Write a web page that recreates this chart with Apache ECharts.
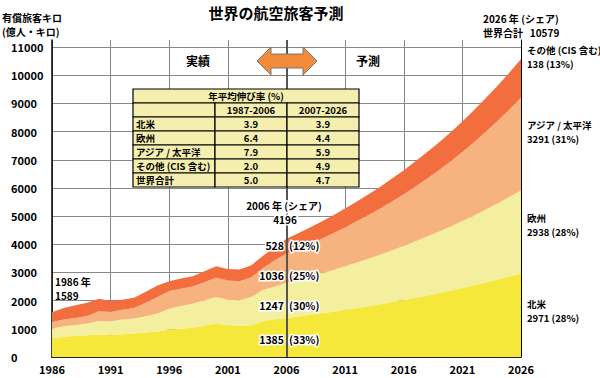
<!DOCTYPE html>
<html><head><meta charset="utf-8">
<script src="https://cdn.jsdelivr.net/npm/echarts@6/dist/echarts.min.js"></script>
<style>html,body{margin:0;padding:0;background:#fff}#c{width:600px;height:378px}</style>
</head><body><div id="c"></div>
<script>
// ---- data ----
const years = [];
for (let y = 1986; y <= 2026; y++) years.push(String(y));
const northAmerica = [658, 717, 752, 776, 799, 800, 811, 835, 870, 905, 976, 999, 1034, 1117, 1187, 1140, 1105, 1130, 1280, 1340, 1385,
  1440, 1495, 1550, 1610, 1675, 1740, 1805, 1875, 1950, 2025, 2105, 2185, 2270, 2360, 2450, 2545, 2645, 2750, 2860, 2971];
const europe = [353, 376, 388, 411, 482, 469, 517, 528, 576, 635, 740, 811, 858, 893, 940, 893, 905, 997, 1106, 1163, 1247,
  1300, 1360, 1420, 1480, 1545, 1615, 1685, 1760, 1835, 1915, 2000, 2090, 2180, 2275, 2375, 2480, 2590, 2700, 2815, 2938];
const asiaPacific = [235, 235, 247, 270, 341, 329, 353, 380, 480, 587, 623, 611, 611, 646, 682, 682, 682, 706, 776, 930, 1036,
  1095, 1160, 1230, 1300, 1380, 1460, 1545, 1635, 1735, 1835, 1945, 2060, 2180, 2310, 2450, 2600, 2760, 2925, 3100, 3291];
const others = [343, 412, 447, 471, 446, 392, 352, 364, 388, 413, 353, 365, 364, 388, 412, 411, 411, 423, 435, 460, 528,
  555, 580, 610, 640, 670, 705, 740, 775, 815, 855, 895, 940, 985, 1035, 1085, 1140, 1195, 1250, 1315, 1379];
const seriesNames = ['北米', '欧州', 'アジア / 太平洋', 'その他 (CIS 含む)'];
const seriesColors = ['#F6E83A', '#F4EF9E', '#F6B27F', '#F36E3E'];

const tableTitle = '年平均伸び率 (%)';
const tablePeriods = ['1987-2006', '2007-2026'];
const tableRows = ['北米', '欧州', 'アジア / 太平洋', 'その他 (CIS 含む)', '世界合計'];
const growthPast = ['3.9', '6.4', '7.9', '2.0', '5.0'];
const growthFuture = ['3.9', '4.4', '5.9', '4.9', '4.7'];

const rightLabels = [
  ['その他 (CIS 含む)', '138 (13%)'],
  ['アジア / 太平洋', '3291 (31%)'],
  ['欧州', '2938 (28%)'],
  ['北米', '2971 (28%)']
];
const label2006Values = ['528', '1036', '1247', '1385'];
const label2006Shares = ['(12%)', '(25%)', '(30%)', '(33%)'];

// ---- chart ----
const FONT = '"Noto Sans CJK JP", "Noto Sans", sans-serif';
const chart = echarts.init(document.getElementById('c'), null, {renderer: 'svg'});
const seriesData = [northAmerica, europe, asiaPacific, others];

const series = seriesData.map((arr, i) => ({
  name: seriesNames[i],
  type: 'line',
  stack: 'total',
  data: arr,
  showSymbol: false,
  symbol: 'none',
  lineStyle: {width: 0},
  areaStyle: {color: seriesColors[i], opacity: 1},
  itemStyle: {color: seriesColors[i]},
  emphasis: {disabled: true},
  silent: true,
  z: 2
}));
series[3].markLine = {
  silent: true,
  symbol: ['none', 'none'],
  label: {show: false},
  lineStyle: {color: '#555', width: 2, type: 'solid'},
  data: [{xAxis: '2006'}],
  animation: false
};

function txt(text, x, y, size, opts) {
  return {
    type: 'text', z: 100,
    style: Object.assign({text: text, x: x, y: y, fill: '#000',
      font: 'bold ' + size + 'px ' + FONT, textAlign: 'left', textVerticalAlign: 'middle'}, opts || {})
  };
}

const graphics = [];
graphics.push(txt('世界の航空旅客予測', 276, 12, 15, {textAlign: 'center'}));
graphics.push(txt('有償旅客キロ', 2, 17, 10));
graphics.push(txt('(億人・キロ)', 2, 31, 10));
graphics.push(txt('2026 年 (シェア)', 483, 18, 10));
graphics.push(txt('世界合計   10579', 483, 32, 10));
const rightY = [[50, 64], [125, 139], [218, 232], [304, 318]];
rightLabels.forEach((p, i) => {
  graphics.push(txt(p[0], 527, rightY[i][0], 9.5));
  graphics.push(txt(p[1], 527, rightY[i][1], 9.5));
});
graphics.push(txt('1986 年', 55, 281, 10));
graphics.push(txt('1589', 55, 295, 10));
const halo = {stroke: '#fff', lineWidth: 3};
graphics.push(txt('2006 年 (シェア)', 284, 205, 10, Object.assign({textAlign: 'center'}, halo)));
graphics.push(txt('4196', 285, 219, 10, Object.assign({textAlign: 'center'}, halo)));
const midY = [245, 275, 305, 339];
label2006Values.forEach((v, i) => {
  graphics.push(txt(v, 284, midY[i], 10.5, Object.assign({textAlign: 'right'}, halo)));
  graphics.push(txt(label2006Shares[i], 289, midY[i], 10.5, Object.assign({textAlign: 'left'}, halo)));
});
graphics.push(txt('実績', 198, 60, 12, {textAlign: 'center'}));
graphics.push(txt('予測', 368, 60, 12, {textAlign: 'center'}));
// double-headed arrow
graphics.push({
  type: 'polygon', z: 90,
  shape: {points: [[257, 61], [271, 47], [271, 54], [303, 54], [303, 47], [317, 61], [303, 75], [303, 68], [271, 68], [271, 75]]},
  style: {fill: '#F28B3A', stroke: '#777', lineWidth: 1}
});
// table
const tx = 133, colW = [82, 72, 72], rowH = 14, ty = 89;
const tableW = colW[0] + colW[1] + colW[2];
const tableFill = '#F4EFAE';
function cell(x, y, w, h) {
  graphics.push({type: 'rect', z: 95, shape: {x: x, y: y, width: w, height: h},
    style: {fill: tableFill, stroke: '#000', lineWidth: 1.2}});
}
cell(tx, ty, tableW, rowH);
graphics.push(txt(tableTitle, tx + tableW / 2, ty + rowH / 2, 9.5, {textAlign: 'center'}));
let y0 = ty + rowH;
cell(tx, y0, colW[0], rowH);
cell(tx + colW[0], y0, colW[1], rowH);
cell(tx + colW[0] + colW[1], y0, colW[2], rowH);
graphics.push(txt(tablePeriods[0], tx + colW[0] + colW[1] / 2, y0 + rowH / 2, 9.5, {textAlign: 'center'}));
graphics.push(txt(tablePeriods[1], tx + colW[0] + colW[1] + colW[2] / 2, y0 + rowH / 2, 9.5, {textAlign: 'center'}));
tableRows.forEach((r, i) => {
  const yy = ty + rowH * (i + 2);
  cell(tx, yy, colW[0], rowH);
  cell(tx + colW[0], yy, colW[1], rowH);
  cell(tx + colW[0] + colW[1], yy, colW[2], rowH);
  graphics.push(txt(r, tx + 3, yy + rowH / 2, 9.5));
  graphics.push(txt(growthPast[i], tx + colW[0] + colW[1] / 2, yy + rowH / 2, 9.5, {textAlign: 'center'}));
  graphics.push(txt(growthFuture[i], tx + colW[0] + colW[1] + colW[2] / 2, yy + rowH / 2, 9.5, {textAlign: 'center'}));
});

chart.setOption({
  animation: false,
  backgroundColor: '#fff',
  grid: {left: 52, right: 79, top: 40, bottom: 21, containLabel: false},
  xAxis: {
    type: 'category', data: years, boundaryGap: false,
    axisLine: {show: true, lineStyle: {color: '#000', width: 1.5}},
    axisTick: {show: true, inside: true, length: 4, interval: 4, alignWithLabel: true, lineStyle: {color: '#000', width: 1}},
    axisLabel: {color: '#000', fontFamily: FONT, fontWeight: 'bold', fontSize: 11, margin: 6, interval: 4},
    splitLine: {show: true, interval: 4, lineStyle: {color: '#888', width: 1}}
  },
  yAxis: [{
    type: 'value', min: 0, max: 11250, interval: 1000,
    axisLine: {show: true, lineStyle: {color: '#000', width: 1.5}},
    axisTick: {show: false},
    axisLabel: {color: '#000', fontFamily: FONT, fontWeight: 'bold', fontSize: 11, align: 'left', margin: 41,
      showMaxLabel: false, formatter: v => String(v)},
    splitLine: {show: true, showMaxLine: false, lineStyle: {color: '#888', width: 1}}
  }, {
    type: 'value', min: 0, max: 11250, position: 'right',
    axisLine: {show: true, lineStyle: {color: '#000', width: 1}},
    axisTick: {show: false}, axisLabel: {show: false}, splitLine: {show: false}
  }],
  series: series,
  graphic: graphics
});
</script></body></html>
